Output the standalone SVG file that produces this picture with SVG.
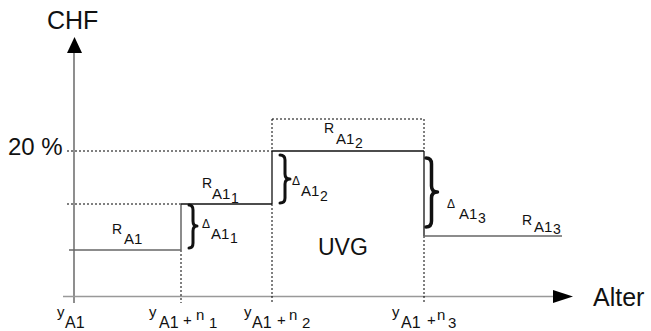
<svg xmlns="http://www.w3.org/2000/svg" width="651" height="331" viewBox="0 0 651 331">
<style>
text{font-family:"Liberation Sans",Arial,sans-serif;fill:#111}
.big{font-size:24px}
.r{font-size:14px}
.s{font-size:15px}
.ss{font-size:14px}
.d{font-size:12px}
.ty{font-size:15px}
.ta{font-size:16px}
.tp{font-size:15px}
.tn{font-size:15px}
.dot{stroke:#000;stroke-width:1;stroke-dasharray:2,2;fill:none}
.sol{stroke:#111;stroke-width:1.3;fill:none}
.gry{stroke:#666;stroke-width:1.5;fill:none}
.br{stroke:#111;stroke-width:3;fill:none;stroke-linecap:round;stroke-linejoin:round}
</style>
<rect width="651" height="331" fill="#fff"/>
<g id="axes">
<line x1="74" y1="303" x2="74" y2="52" stroke="#444" stroke-width="1.2"/>
<polygon points="74.5,37 67,53 82,53" fill="#000"/>
<line x1="63" y1="296.5" x2="554" y2="296.5" stroke="#999" stroke-width="1.5"/>
<polygon points="573,296.5 553,290 553,303" fill="#000"/>
<text id="chf" class="big" x="47" y="29" style="font-size:25px">CHF</text>
<text id="alter" class="big" x="593" y="306" style="font-size:25px">Alter</text>
<text id="pct" class="big" x="8" y="155">20 %</text>
</g>
<g id="connectors">
<line class="dot" x1="67" y1="151" x2="272" y2="151"/>
<line class="dot" x1="67" y1="204" x2="181" y2="204"/>
<line class="dot" x1="272" y1="119" x2="424" y2="119"/>
<line class="dot" x1="272" y1="119" x2="272" y2="151"/>
<line class="dot" x1="424" y1="119" x2="424" y2="151"/>
<line class="dot" x1="181" y1="250" x2="181" y2="303"/>
<line class="dot" x1="272" y1="204" x2="272" y2="303"/>
<line class="dot" x1="424" y1="236" x2="424" y2="303"/>
<line class="gry" x1="69" y1="250" x2="181" y2="250"/>
<line class="gry" x1="181" y1="204" x2="181" y2="250"/>
<line class="sol" x1="181" y1="204" x2="272" y2="204"/>
<line class="sol" x1="272" y1="151" x2="272" y2="204"/>
<line class="sol" x1="272" y1="151" x2="424" y2="151"/>
<line class="sol" x1="424" y1="151" x2="424" y2="236"/>
<line class="gry" x1="424" y1="236" x2="562" y2="236"/>
<path class="br" d="M189,205 Q193,205 193,210 L193,221 Q193,226 197,226 Q193,226 193,231 L193,243 Q193,248 189,248"/>
<path class="br" d="M280,155 Q285,155 285,160 L285,174 Q285,179 290,179 Q285,179 285,184 L285,198 Q285,203 280,203"/>
<path class="br" d="M426,158 Q431.5,158 431.5,164 L431.5,186 Q431.5,192 437.5,192 Q431.5,192 431.5,198 L431.5,221 Q431.5,227 426,227" style="stroke-width:3.5"/>
</g>
<g id="labels">
<text class="r" x="112" y="234">R</text><text class="s" x="124" y="244">A1</text>
<text class="r" x="202" y="188">R</text><text class="s" x="212" y="199">A1</text><text class="ss" x="231" y="203">1</text>
<text class="r" x="324" y="133">R</text><text class="s" x="336" y="144">A1</text><text class="ss" x="355" y="148">2</text>
<text class="r" x="522" y="225">R</text><text class="s" x="534" y="232">A1</text><text class="ss" x="553" y="234">3</text>
<text class="d" x="202" y="228">Δ</text><text class="s" x="211" y="239">A1</text><text class="ss" x="230" y="243">1</text>
<text class="d" x="292" y="185">Δ</text><text class="s" x="301" y="196">A1</text><text class="ss" x="320" y="201">2</text>
<text class="d" x="447" y="208">Δ</text><text class="s" x="459" y="219">A1</text><text class="ss" x="478" y="223">3</text>
<text id="uvg" class="big" x="318" y="255" style="font-size:23px">UVG</text>
</g>
<g id="ticks">
<text class="ty" x="57" y="317">y</text><text class="ta" x="65" y="328">A1</text>
<text class="ty" x="149" y="317">y</text><text class="ta" x="159" y="328">A1</text><text class="tp" x="183" y="325">+</text><text class="tn" x="196" y="320">n</text><text class="tp" x="209" y="328">1</text>
<text class="ty" x="244" y="317">y</text><text class="ta" x="252" y="328">A1</text><text class="tp" x="277" y="325">+</text><text class="tn" x="289" y="320">n</text><text class="tp" x="302" y="328">2</text>
<text class="ty" x="392" y="317">y</text><text class="ta" x="401" y="328">A1</text><text class="tp" x="427" y="325">+</text><text class="tn" x="437" y="320">n</text><text class="tp" x="448" y="328">3</text>
</g>
</svg>
